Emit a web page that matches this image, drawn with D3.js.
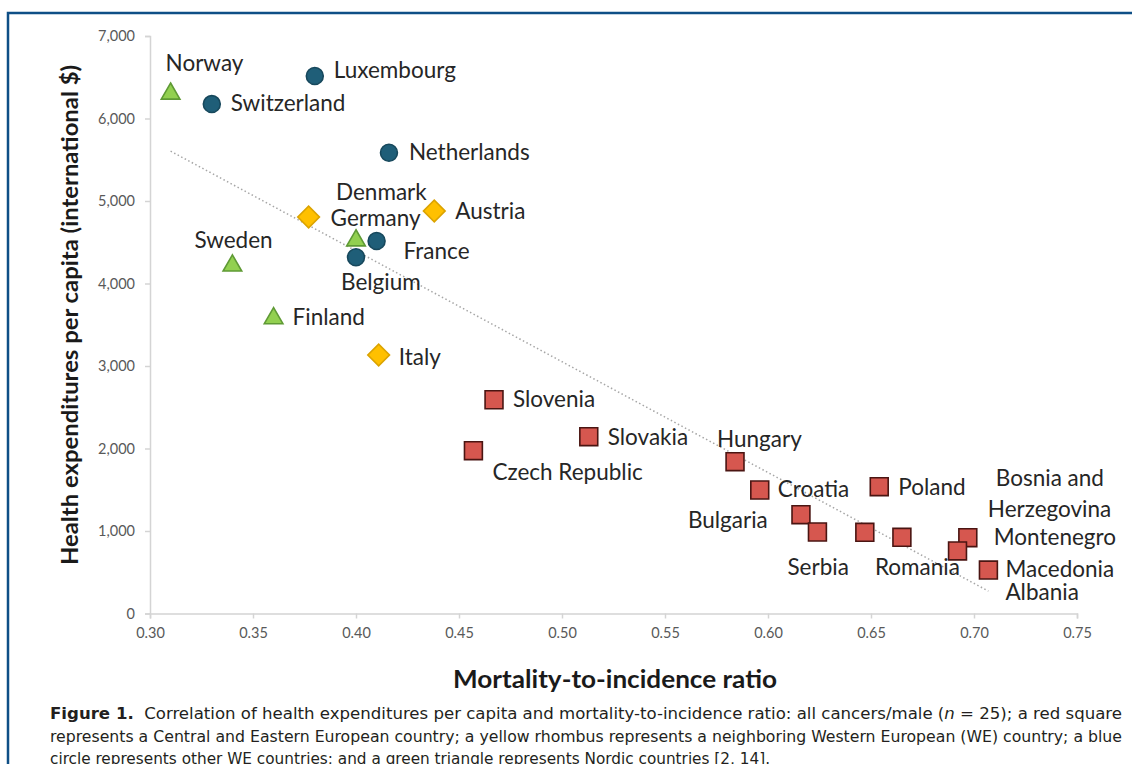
<!DOCTYPE html>
<html>
<head>
<meta charset="utf-8">
<script src="https://cdn.jsdelivr.net/npm/d3@7"></script>
<style>
    html, body { margin: 0; padding: 0; background: #fff; }
    svg { display: block; }
</style>
</head>
<body>
<svg id="chart" width="1132" height="764"></svg>
<script>
"use strict";

// data
var countries = ["Norway","Switzerland","Luxembourg","Netherlands","Germany","Austria","Denmark","France",
    "Belgium","Sweden","Finland","Italy","Slovenia","Slovakia","Czech Republic","Hungary","Croatia","Poland",
    "Bulgaria","Serbia","Bosnia and Herzegovina","Romania","Montenegro","Macedonia","Albania"];
var mortalityRatio = [0.310,0.330,0.380,0.416,0.377,0.438,0.400,0.410,
    0.400,0.340,0.360,0.411,0.467,0.513,0.457,0.584,0.596,0.654,
    0.616,0.624,0.647,0.665,0.697,0.692,0.707];
var healthExpenditure = [6300,6175,6515,5585,4806,4879,4521,4515,
    4318,4216,3578,3133,2591,2143,1973,1840,1497,1537,
    1198,988,984,924,919,758,527];
var groups = ["nordic","otherWE","otherWE","otherWE","neighbourWE","neighbourWE","nordic","otherWE",
    "otherWE","nordic","nordic","neighbourWE","CEE","CEE","CEE","CEE","CEE","CEE",
    "CEE","CEE","CEE","CEE","CEE","CEE","CEE"];

var xTicks = [0.30,0.35,0.40,0.45,0.50,0.55,0.60,0.65,0.70,0.75];
var yTicks = [0,1000,2000,3000,4000,5000,6000,7000];

var captionLines = [
    [{t:"Figure 1.", b:true},{t:"  Correlation of health expenditures per capita and mortality-to-incidence ratio: all cancers/male ("},{t:"n", i:true},{t:" = 25); a red square"}],
    [{t:"represents a Central and Eastern European country; a yellow rhombus represents a neighboring Western European (WE) country; a blue"}],
    [{t:"circle represents other WE countries; and a green triangle represents Nordic countries [2, 14]."}]
];

// marker styles per group (rotate: diamond is a square turned 45 degrees)
var groupStyle = {
    CEE:         {shape: d3.symbolSquare,   size: 320, rotate: 0,  fill: "#d6574f", stroke: "#4a1512"},
    neighbourWE: {shape: d3.symbolSquare,   size: 235, rotate: 45, fill: "#ffc000", stroke: "#dba300"},
    otherWE:     {shape: d3.symbolCircle,   size: 225, rotate: 0,  fill: "#1f5e78", stroke: "#17485c"},
    nordic:      {shape: d3.symbolTriangle, size: 150, rotate: 0,  fill: "#92d050", stroke: "#5f9a35"}
};

// label placement relative to the marker (pixels)
var labelPos = {
    "Norway": [-5,-23], "Switzerland": [19,7], "Luxembourg": [19,2], "Netherlands": [20,7],
    "Germany": [22,9], "Austria": [21,8], "Denmark": [-20,-41], "France": [27,18],
    "Belgium": [-15,33], "Sweden": [-38,-18], "Finland": [19,7], "Italy": [20,10],
    "Slovenia": [19,7], "Slovakia": [19,8], "Czech Republic": [19,29], "Hungary": [-18,-15],
    "Croatia": [18,7], "Poland": [19,8], "Bulgaria": [-113,13], "Serbia": [-30,43],
    "Bosnia and Herzegovina": [123,-46], "Romania": [-27,38], "Montenegro": [26,7],
    "Macedonia": [48,26], "Albania": [17,30]
};

var svg = d3.select("#chart");
var W = 1132, H = 764;

svg.append("rect").attr("width", W).attr("height", H).attr("fill", "#fff");

// outer blue frame, runs off the right and bottom edges
svg.append("rect")
    .attr("x", 8).attr("y", 13)
    .attr("width", 1300).attr("height", 900)
    .attr("fill", "none")
    .attr("stroke", "#0f4f86")
    .attr("stroke-width", 2.5);

var x = d3.scaleLinear().domain([0.30, 0.75]).range([150, 1077]);
var y = d3.scaleLinear().domain([0, 7000]).range([613.5, 36]);

var tickFont = "Lato, 'Open Sans', sans-serif";

// y axis
var gy = svg.append("g")
    .attr("transform", "translate(" + x(0.30) + ",0)")
    .call(d3.axisLeft(y).tickValues(yTicks).tickFormat(d3.format(",")).tickSize(5).tickPadding(10));
// x axis
var gx = svg.append("g")
    .attr("transform", "translate(0," + y(0) + ")")
    .call(d3.axisBottom(x).tickValues(xTicks).tickFormat(d3.format(".2f")).tickSize(5).tickPadding(9));

[gx, gy].forEach(function(g){
    g.select(".domain").attr("stroke", "#d4d4d4").attr("stroke-width", 1.5);
    g.selectAll(".tick line").attr("stroke", "#d4d4d4").attr("stroke-width", 1.5);
    g.selectAll(".tick text")
        .attr("fill", "#595959")
        .style("font-family", tickFont)
        .style("font-size", "14.5px");
});

// linear trendline (least squares over the points)
var n = countries.length;
var mx = d3.mean(mortalityRatio), my = d3.mean(healthExpenditure);
var sxy = 0, sxx = 0;
for (var i = 0; i < n; i++) {
    sxy += (mortalityRatio[i] - mx) * (healthExpenditure[i] - my);
    sxx += (mortalityRatio[i] - mx) * (mortalityRatio[i] - mx);
}
var slope = sxy / sxx, intercept = my - slope * mx;
var xExt = d3.extent(mortalityRatio);
svg.append("line")
    .attr("x1", x(xExt[0])).attr("y1", y(intercept + slope * xExt[0]))
    .attr("x2", x(xExt[1])).attr("y2", y(intercept + slope * xExt[1]))
    .attr("stroke", "#a6a6a6")
    .attr("stroke-width", 1.5)
    .attr("stroke-dasharray", "1.5,2.5");

var points = countries.map(function(c, i){
    return {name: c, mir: mortalityRatio[i], exp: healthExpenditure[i], group: groups[i]};
});

// markers
svg.append("g").selectAll("path")
    .data(points)
    .enter()
    .append("path")
    .attr("transform", function(d){
        var s = groupStyle[d.group];
        return "translate(" + x(d.mir) + "," + y(d.exp) + ") rotate(" + s.rotate + ")";
    })
    .attr("d", function(d){
        var s = groupStyle[d.group];
        return d3.symbol().type(s.shape).size(s.size)();
    })
    .attr("fill", function(d){ return groupStyle[d.group].fill; })
    .attr("stroke", function(d){ return groupStyle[d.group].stroke; })
    .attr("stroke-width", 1.6);

// labels
var labelFont = "Lato, 'Open Sans', sans-serif";
var gLabels = svg.append("g")
    .style("font-family", labelFont)
    .style("font-size", "22.5px")
    .attr("fill", "#262626");

points.forEach(function(d){
    var off = labelPos[d.name];
    var px = x(d.mir) + off[0], py = y(d.exp) + off[1];
    if (d.name === "Bosnia and Herzegovina") {
        var t = gLabels.append("text").attr("x", px).attr("y", py);
        t.append("tspan").attr("x", px + 8).attr("y", py).text("Bosnia and");
        t.append("tspan").attr("x", px).attr("y", py + 31).text("Herzegovina");
    } else {
        gLabels.append("text").attr("x", px).attr("y", py).text(d.name);
    }
});

// axis titles
svg.append("text")
    .attr("x", 615).attr("y", 688)
    .attr("text-anchor", "middle")
    .attr("textLength", 324).attr("lengthAdjust", "spacingAndGlyphs")
    .style("font-family", labelFont).style("font-weight", "bold").style("font-size", "25px")
    .attr("fill", "#1a1a1a")
    .text("Mortality-to-incidence ratio");

svg.append("text")
    .attr("transform", "translate(78,315) rotate(-90)")
    .attr("text-anchor", "middle")
    .attr("textLength", 500).attr("lengthAdjust", "spacingAndGlyphs")
    .style("font-family", labelFont).style("font-weight", "bold").style("font-size", "23px")
    .attr("fill", "#1a1a1a")
    .text("Health expenditures per capita (international $)");

// caption
var capFont = "'DejaVu Sans Condensed', 'Liberation Sans Narrow', sans-serif";
var capY = [719, 742, 764];
var gCap = svg.append("g")
    .style("font-family", capFont)
    .style("font-size", "15.5px")
    .attr("fill", "#231f20");

captionLines.forEach(function(parts, li){
    var t = gCap.append("text").attr("x", 50).attr("y", capY[li]).attr("xml:space", "preserve");
    parts.forEach(function(p){
        var ts = t.append("tspan").text(p.t);
        if (p.b) ts.style("font-weight", "bold");
        if (p.i) ts.style("font-style", "italic");
    });
    t.attr("textLength", li < 2 ? 1072 : 720).attr("lengthAdjust", "spacingAndGlyphs");
});
</script>
</body>
</html>
